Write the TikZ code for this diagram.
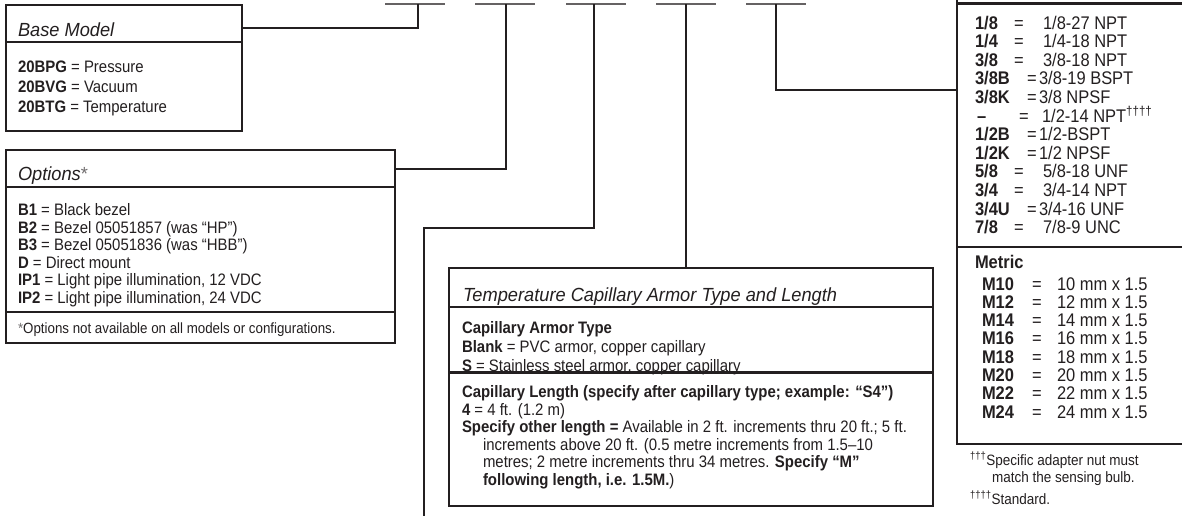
\documentclass[tikz,border=0pt]{standalone}
\usepackage{fontspec}
\setmainfont{Liberation Sans}[FakeStretch=0.9]
\newfontfamily\ttlfont{Liberation Sans}[FakeStretch=0.96]
\definecolor{ink}{HTML}{231F20}
\newcommand\fsz[1]{\fontsize{#1}{#1}\selectfont}
\newcommand\optast{{\upshape\color{ink!65}*}}
\begin{document}
\begin{tikzpicture}[x=1pt,y=-1pt,
  box/.style={draw=ink, line width=2.2pt, rectangle, inner sep=0pt, outer sep=0pt, anchor=north west},
  rule/.style={draw=ink, line width=2.2pt},
  conn/.style={draw=ink, line width=1.8pt},
  slotline/.style={draw=ink!70, line width=1.5pt},
  txt/.style={anchor=base west, inner sep=0pt, outer sep=0pt, text=ink, font=\fsz{16.6}},
  ttl/.style={txt, font=\ttlfont\fsz{19}\itshape},
  rt/.style={txt, font=\fsz{18.3}},
  rk/.style={txt, font=\fsz{18.3}\bfseries},
  fn/.style={txt, font=\fsz{15}}]
\useasboundingbox (0,0) rectangle (1182,515);
\clip (0,0) rectangle (1182,515);
\fill[white] (0,0) rectangle (1182,515);

% ---- blank slots
\coordinate (s1) at (418,4);
\coordinate (s2) at (506,4);
\coordinate (s3) at (594,4);
\coordinate (s4) at (686,4);
\coordinate (s5) at (776,4);
\draw[slotline] (385,4) -- (445,4);
\draw[slotline] (475,4) -- (535,4);
\draw[slotline] (566,4) -- (626,4);
\draw[slotline] (656,4) -- (716,4);
\draw[slotline] (746,4) -- (806,4);

% ---- Base Model
\node[box, minimum width=236pt, minimum height=126pt] (base) at (6,5) {};
\draw[rule] (base.west |- 0,42) -- (base.east |- 0,42);
\node[ttl] (bmt) at (18,36) {Base Model};
\node[txt] (bm1) at (18,72) {\textbf{20BPG} = Pressure};
\node[txt] (bm2) at (18,92) {\textbf{20BVG} = Vacuum};
\node[txt] (bm3) at (18,112) {\textbf{20BTG} = Temperature};

% ---- Options
\node[box, minimum width=389pt, minimum height=193pt] (opt) at (6,150) {};
\draw[rule] (opt.west |- 0,187) -- (opt.east |- 0,187);
\draw[rule] (opt.west |- 0,312) -- (opt.east |- 0,312);
\node[ttl] (opt0) at (18,180) {Options\optast};
\node[txt] (o1) at (18,215.5) {\textbf{B1} = Black bezel};
\node[txt] (o2) at (18,233.1) {\textbf{B2} = Bezel 05051857 (was “HP”)};
\node[txt] (o3) at (18,250.7) {\textbf{B3} = Bezel 05051836 (was “HBB”)};
\node[txt] (o4) at (18,268.3) {\textbf{D} = Direct mount};
\node[txt] (o5) at (18,285.9) {\textbf{IP1} = Light pipe illumination, 12 VDC};
\node[txt] (o6) at (18,303.5) {\textbf{IP2} = Light pipe illumination, 24 VDC};
\node[txt, font=\fsz{14.8}] (ofn) at (18,333) {\optast Options not available on all models or configurations.};

% ---- Temperature capillary box
\node[box, minimum width=484pt, minimum height=238pt] (temp) at (449,268) {};
\node[ttl] (tt) at (463,301) {Temperature Capillary Armor Type and Length};
\draw[rule] (temp.west |- 0,307) -- (temp.east |- 0,307);
\node[txt] (c1) at (462,333.5) {\textbf{Capillary Armor Type}};
\node[txt] (c2) at (462,352) {\textbf{Blank} = PVC armor, copper capillary};
\node[txt] (c3) at (462,371.5) {\textbf{S} = Stainless steel armor, copper capillary};
\draw[rule] (temp.west |- 0,372.5) -- (temp.east |- 0,372.5);
\node[txt] (c4) at (462,397.5) {\textbf{Capillary Length (specify after capillary type; example: “S4”)}};
\node[txt] (c5) at (462,415.1) {\textbf{4} = 4 ft. (1.2 m)};
\node[txt] (c6) at (462,432.7) {\textbf{Specify other length =} Available in 2 ft. increments thru 20 ft.; 5 ft.};
\node[txt] (c7) at (483,450.3) {increments above 20 ft. (0.5 metre increments from 1.5–10};
\node[txt] (c8) at (483,467.9) {metres; 2 metre increments thru 34 metres. \textbf{Specify “M”}};
\node[txt] (c9) at (483,485.5) {\textbf{following length, i.e. 1.5M.})};

% ---- Thread / connection box
\node[box, minimum width=240pt, minimum height=464pt] (thr) at (957,-20) {};
\draw[rule] (thr.west |- 0,3.5) -- (thr.east |- 0,3.5);
\draw[rule] (thr.west |- 0,247) -- (thr.east |- 0,247);
% fractional rows
\node[rk] (k1) at (975,29) {1/8};   \node[rt] (e1) at (1014,29) {=}; \node[rt] (v1) at (1043,29) {1/8-27 NPT};
\node[rk] (k2) at (975,47.6) {1/4}; \node[rt] (e2) at (1014,47.6) {=}; \node[rt] (v2) at (1043,47.6) {1/4-18 NPT};
\node[rk] (k3) at (975,66.2) {3/8}; \node[rt] (e3) at (1014,66.2) {=}; \node[rt] (v3) at (1043,66.2) {3/8-18 NPT};
\node[rk] (k4) at (975,84.8) {3/8B}; \node[rt] (e4) at (1027,84.8) {=}; \node[rt] (v4) at (1039,84.8) {3/8-19 BSPT};
\node[rk] (k5) at (975,103.4) {3/8K}; \node[rt] (e5) at (1027,103.4) {=}; \node[rt] (v5) at (1039,103.4) {3/8 NPSF};
\node[rk] (k6) at (977,122) {–}; \node[rt] (e6) at (1019,122) {=}; \node[rt] (v6) at (1042,122) {1/2-14 NPT\textsuperscript{††††}};
\node[rk] (k7) at (975,140.6) {1/2B}; \node[rt] (e7) at (1027,140.6) {=}; \node[rt] (v7) at (1039,140.6) {1/2-BSPT};
\node[rk] (k8) at (975,159.2) {1/2K}; \node[rt] (e8) at (1027,159.2) {=}; \node[rt] (v8) at (1039,159.2) {1/2 NPSF};
\node[rk] (k9) at (975,177.8) {5/8}; \node[rt] (e9) at (1014,177.8) {=}; \node[rt] (v9) at (1043,177.8) {5/8-18 UNF};
\node[rk] (k10) at (975,196.4) {3/4}; \node[rt] (e10) at (1014,196.4) {=}; \node[rt] (v10) at (1043,196.4) {3/4-14 NPT};
\node[rk] (k11) at (975,215) {3/4U}; \node[rt] (e11) at (1027,215) {=}; \node[rt] (v11) at (1039,215) {3/4-16 UNF};
\node[rk] (k12) at (975,233.6) {7/8}; \node[rt] (e12) at (1014,233.6) {=}; \node[rt] (v12) at (1043,233.6) {7/8-9 UNC};
% metric rows
\node[rk] (met) at (975,268) {Metric};
\node[rk] (m1) at (982,290) {M10}; \node[rt] (me1) at (1032,290) {=}; \node[rt] (mv1) at (1057,290) {10 mm x 1.5};
\node[rk] (m2) at (982,308.3) {M12}; \node[rt] (me2) at (1032,308.3) {=}; \node[rt] (mv2) at (1057,308.3) {12 mm x 1.5};
\node[rk] (m3) at (982,326.6) {M14}; \node[rt] (me3) at (1032,326.6) {=}; \node[rt] (mv3) at (1057,326.6) {14 mm x 1.5};
\node[rk] (m4) at (982,344.9) {M16}; \node[rt] (me4) at (1032,344.9) {=}; \node[rt] (mv4) at (1057,344.9) {16 mm x 1.5};
\node[rk] (m5) at (982,363.2) {M18}; \node[rt] (me5) at (1032,363.2) {=}; \node[rt] (mv5) at (1057,363.2) {18 mm x 1.5};
\node[rk] (m6) at (982,381.5) {M20}; \node[rt] (me6) at (1032,381.5) {=}; \node[rt] (mv6) at (1057,381.5) {20 mm x 1.5};
\node[rk] (m7) at (982,399.8) {M22}; \node[rt] (me7) at (1032,399.8) {=}; \node[rt] (mv7) at (1057,399.8) {22 mm x 1.5};
\node[rk] (m8) at (982,418.1) {M24}; \node[rt] (me8) at (1032,418.1) {=}; \node[rt] (mv8) at (1057,418.1) {24 mm x 1.5};
% footnotes
\node[fn] (f1) at (970,465) {\textsuperscript{†††}Specific adapter nut must};
\node[fn] (f2) at (992,482) {match the sensing bulb.};
\node[fn] (f3) at (970,504) {\textsuperscript{††††}Standard.};

% ---- connectors
\draw[conn] (base.east |- 0,28) -| (s1);
\draw[conn] (opt.east |- 0,169) -| (s2);
\coordinate (bend3) at (424,228);
\coordinate (free3) at (424,520);
\draw[conn] (s3) |- (bend3) -- (free3);
\draw[conn] (s4) -- (s4 |- temp.north);
\draw[conn] (s5) |- (thr.west |- 0,90);
\end{tikzpicture}
\end{document}
